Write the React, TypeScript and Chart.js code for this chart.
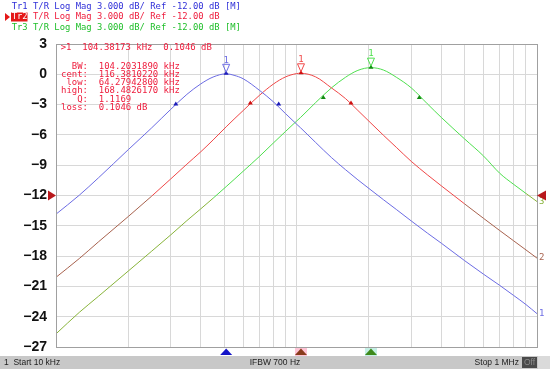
import React, { useEffect, useRef } from 'react';
import { Chart, registerables } from 'chart.js';
Chart.register(...registerables);

// Frequencies in kHz (log axis from 10 kHz to 1 MHz)
const freqKHz = [10, 12.5, 15, 20, 25, 30, 35, 40, 45, 51, 55, 60, 70, 80, 90, 100, 104, 120, 140, 160, 180, 204, 230, 260, 300, 350, 400, 500, 600, 700, 800, 900, 1000];
const tr1Db = [-13.85, -11.97, -10.26, -7.45, -5.3, -3.47, -1.99, -0.95, -0.27, 0.05, -0.1, -0.44, -1.57, -2.71, -3.89, -4.93, -5.3, -6.74, -8.26, -9.45, -10.45, -11.46, -12.42, -13.38, -14.52, -15.72, -16.72, -18.45, -19.8, -20.9, -21.9, -22.8, -23.7];
const tr2Db = [-20.1, -18.24, -16.6, -14.07, -12.06, -10.36, -8.9, -7.67, -6.5, -5.2, -4.44, -3.59, -2.1, -0.98, -0.26, 0.07, 0.1, -0.25, -1.36, -2.41, -3.58, -4.84, -6.04, -7.23, -8.62, -9.95, -11.04, -12.83, -14.27, -15.47, -16.49, -17.39, -18.2];
const tr3Db = [-25.7, -23.57, -21.99, -19.47, -17.51, -15.9, -14.49, -13.32, -12.27, -11.12, -10.42, -9.6, -8.15, -6.82, -5.66, -4.64, -4.27, -2.81, -1.33, -0.29, 0.39, 0.66, 0.42, -0.29, -1.34, -2.92, -4.27, -6.4, -8.1, -9.8, -10.9, -11.8, -12.6];

// Markers: [peak, low -3 dB, high -3 dB]
const tr1MarkerKHz = [51.0, 31.5, 84.3];
const tr1MarkerDb = [0.05, -3.0, -3.0];
const tr2MarkerKHz = [104.38, 64.28, 168.48];
const tr2MarkerDb = [0.1, -2.9, -2.9];
const tr3MarkerKHz = [204.0, 129.3, 324.0];
const tr3MarkerDb = [0.66, -2.34, -2.34];

const xGridKHz = [10, 20, 30, 40, 50, 60, 70, 80, 90, 100, 200, 300, 400, 500, 600, 700, 800, 900, 1000];
const yTicks = [3, 0, -3, -6, -9, -12, -15, -18, -21, -24, -27];
const refLevel = -12;

const headerLines = [
  'Tr1 T/R Log Mag 3.000 dB/ Ref -12.00 dB [M]',
  'Tr2 T/R Log Mag 3.000 dB/ Ref -12.00 dB',
  'Tr3 T/R Log Mag 3.000 dB/ Ref -12.00 dB [M]',
];
const infoLines = [
  '>1  104.38173 kHz  0.1046 dB',
  '  BW:  104.2031890 kHz',
  'cent:  116.3810220 kHz',
  ' low:  64.27942800 kHz',
  'high:  168.4826170 kHz',
  '   Q:  1.1169',
  'loss:  0.1046 dB',
];
const statusStart = '1  Start 10 kHz';
const statusMid = 'IFBW 700 Hz';
const statusStop = 'Stop 1 MHz';

const MONO = '"DejaVu Sans Mono", monospace';
const SANS = '"Liberation Sans", Arial, sans-serif';

const traceStyle = [
  { hi: '#6c6ce4', lo: '#6c6ce4', mark: '#1c1cb8', text: '#3030d8', end: '1' },
  { hi: '#f04848', lo: '#a8624e', mark: '#d01010', text: '#ee1c3c', end: '2' },
  { hi: '#4ee04e', lo: '#88b43a', mark: '#128a12', text: '#1fbf2a', end: '3' },
];

function tri(ctx: CanvasRenderingContext2D, pts: number[][], fill: string | null, stroke: string | null) {
  ctx.beginPath();
  ctx.moveTo(pts[0][0], pts[0][1]);
  for (let i = 1; i < pts.length; i++) ctx.lineTo(pts[i][0], pts[i][1]);
  ctx.closePath();
  if (fill) { ctx.fillStyle = fill; ctx.fill(); }
  if (stroke) { ctx.strokeStyle = stroke; ctx.lineWidth = 1; ctx.stroke(); }
}

const overlay = {
  id: 'vnaOverlay',
  beforeDraw(chart: any) {
    const ctx = chart.ctx as CanvasRenderingContext2D;
    ctx.save();
    ctx.fillStyle = '#ffffff';
    ctx.fillRect(0, 0, chart.width, chart.height);
    ctx.restore();
  },
  afterDraw(chart: any) {
    const ctx = chart.ctx as CanvasRenderingContext2D;
    const xs = chart.scales.x;
    const ys = chart.scales.y;
    const a = chart.chartArea;
    ctx.save();

    // frame
    ctx.strokeStyle = '#a0a0a0';
    ctx.lineWidth = 1;
    ctx.strokeRect(Math.round(a.left) + 0.5, Math.round(a.top) + 0.5, Math.round(a.right - a.left), Math.round(a.bottom - a.top));

    // markers
    const mk = [
      [tr1MarkerKHz, tr1MarkerDb],
      [tr2MarkerKHz, tr2MarkerDb],
      [tr3MarkerKHz, tr3MarkerDb],
    ];
    mk.forEach((m, i) => {
      const st = traceStyle[i];
      const f = m[0] as number[];
      const d = m[1] as number[];
      for (let k = 0; k < f.length; k++) {
        const px = xs.getPixelForValue(f[k]);
        const py = ys.getPixelForValue(d[k]);
        tri(ctx, [[px, py - 3], [px - 2.5, py + 1], [px + 2.5, py + 1]], st.mark, null);
        if (k === 0) {
          tri(ctx, [[px, py - 1.5], [px - 3.5, py - 9.5], [px + 3.5, py - 9.5]], null, st.hi);
          ctx.fillStyle = st.hi;
          ctx.font = '9px ' + MONO;
          ctx.textAlign = 'center';
          ctx.textBaseline = 'middle';
          ctx.fillText('1', px, py - 13.5);
        }
      }
      // stimulus markers under the plot
      const px0 = xs.getPixelForValue(f[0]);
      const by = a.bottom;
      const bg = i === 0 ? null : i === 1 ? '#ffc4d6' : '#c4f0e6';
      const col = i === 0 ? '#1414c8' : i === 1 ? '#8a3c1c' : '#3e8a1c';
      if (bg) { ctx.fillStyle = bg; ctx.fillRect(px0 - 6, by + 1, 12, 8); }
      tri(ctx, [[px0, by + 1.5], [px0 - 6, by + 8], [px0 + 6, by + 8]], col, null);
    });

    // trace end labels
    const ends = [tr1Db, tr2Db, tr3Db];
    ends.forEach((arr, i) => {
      const st = traceStyle[i];
      const py = ys.getPixelForValue(arr[arr.length - 1]);
      ctx.fillStyle = i === 0 ? st.hi : st.lo;
      ctx.font = '9px ' + MONO;
      ctx.textAlign = 'left';
      ctx.textBaseline = 'middle';
      ctx.fillText(st.end, a.right + 2, py);
    });

    // reference arrows
    const ry = ys.getPixelForValue(refLevel);
    tri(ctx, [[a.left - 8, ry - 5], [a.left, ry], [a.left - 8, ry + 5]], '#b8181c', null);
    tri(ctx, [[a.right + 9, ry - 5], [a.right, ry], [a.right + 9, ry + 5]], '#b8181c', null);

    // header lines
    ctx.font = '9.4px ' + MONO;
    ctx.textAlign = 'left';
    ctx.textBaseline = 'middle';
    const hy = [6.5, 17, 27.5];
    const pitch = 5.33;
    headerLines.forEach((t, i) => {
      if (i === 1) {
        ctx.fillStyle = '#e41818';
        ctx.fillRect(11, hy[i] - 4.5, 16.5, 9);
        tri(ctx, [[5, hy[i] - 4], [10, hy[i]], [5, hy[i] + 4]], '#e41818', null);
        ctx.fillStyle = '#ffffff';
        ctx.fillText(t.slice(0, 3), 11.7, hy[i], 3 * pitch);
        ctx.fillStyle = traceStyle[1].text;
        ctx.fillText(t.slice(3), 11.7 + 3 * pitch, hy[i], (t.length - 3) * pitch);
      } else {
        ctx.fillStyle = traceStyle[i].text;
        ctx.fillText(t, 11.7, hy[i], t.length * pitch);
      }
    });

    // marker info block
    ctx.font = '9.2px ' + MONO;
    ctx.fillStyle = '#ee1c3c';
    const iy = [48, 66.3, 74.5, 82.8, 91, 99.3, 107.8];
    infoLines.forEach((t, i) => {
      ctx.fillText(t, i === 0 ? 60.7 : 61, iy[i], t.length * 5.4);
    });

    // status bar
    const W = chart.width;
    ctx.fillStyle = '#c8c8c8';
    ctx.fillRect(0, 356, W, 13);
    ctx.fillStyle = '#4a4a4a';
    ctx.fillRect(522, 357, 15, 11);
    ctx.fillStyle = '#dadada';
    ctx.fillRect(538, 356, 12, 13);
    ctx.font = '8.5px ' + SANS;
    ctx.fillStyle = '#202020';
    ctx.textBaseline = 'middle';
    ctx.textAlign = 'left';
    ctx.fillText(statusStart, 4, 362.5);
    ctx.textAlign = 'center';
    ctx.fillText(statusMid, 275, 362.5);
    ctx.textAlign = 'right';
    ctx.fillText(statusStop, 519, 362.5);
    ctx.textAlign = 'center';
    ctx.fillStyle = '#8c8c8c';
    ctx.fillText('Off', 529.5, 362.5);

    ctx.restore();
  },
};

export default function App() {
  const ref = useRef<HTMLCanvasElement | null>(null);
  useEffect(() => {
    if (!ref.current) return;
    const mkSet = (vals: number[], i: number) => ({
      data: freqKHz.map((f, k) => ({ x: f, y: vals[k] })),
      borderColor: traceStyle[i].hi,
      borderWidth: 1,
      pointRadius: 0,
      fill: false,
      cubicInterpolationMode: 'monotone' as const,
      segment: {
        borderColor: (c: any) => ((c.p0.parsed.y + c.p1.parsed.y) / 2 < refLevel ? traceStyle[i].lo : traceStyle[i].hi),
      },
    });
    const chart = new Chart(ref.current, {
      type: 'line',
      data: { datasets: [mkSet(tr1Db, 0), mkSet(tr2Db, 1), mkSet(tr3Db, 2)] },
      options: {
        responsive: false,
        animation: false,
        devicePixelRatio: 1,
        layout: { padding: { left: 0, right: 13, top: 44, bottom: 27 } },
        plugins: { legend: { display: false }, tooltip: { enabled: false } },
        scales: {
          x: {
            type: 'logarithmic',
            min: 10,
            max: 1000,
            afterBuildTicks: (s: any) => { s.ticks = xGridKHz.map((v) => ({ value: v })); },
            afterFit: (s: any) => { s.height = 0; },
            ticks: { display: false },
            grid: { color: '#d8d8d8', drawTicks: false },
            border: { display: true, color: '#a0a0a0' },
          },
          y: {
            type: 'linear',
            min: -27,
            max: 3,
            afterBuildTicks: (s: any) => { s.ticks = yTicks.map((v) => ({ value: v })); },
            afterFit: (s: any) => { s.width = 56; },
            ticks: {
              padding: 9,
              color: '#111111',
              font: { family: SANS, size: 14, weight: 'bold' },
              callback: (v: any) => (Number(v) < 0 ? '\u2212' + Math.abs(Number(v)) : String(v)),
            },
            grid: { color: '#d8d8d8', drawTicks: false },
            border: { display: true, color: '#8c8c8c' },
          },
        },
      },
      plugins: [overlay],
    } as any);
    return () => chart.destroy();
  }, []);
  return (
    <div style={{ position: 'absolute', left: 0, top: 0, width: 550, height: 374, background: '#fff' }}>
      <canvas ref={ref} width={550} height={374} style={{ display: 'block' }} />
    </div>
  );
}
